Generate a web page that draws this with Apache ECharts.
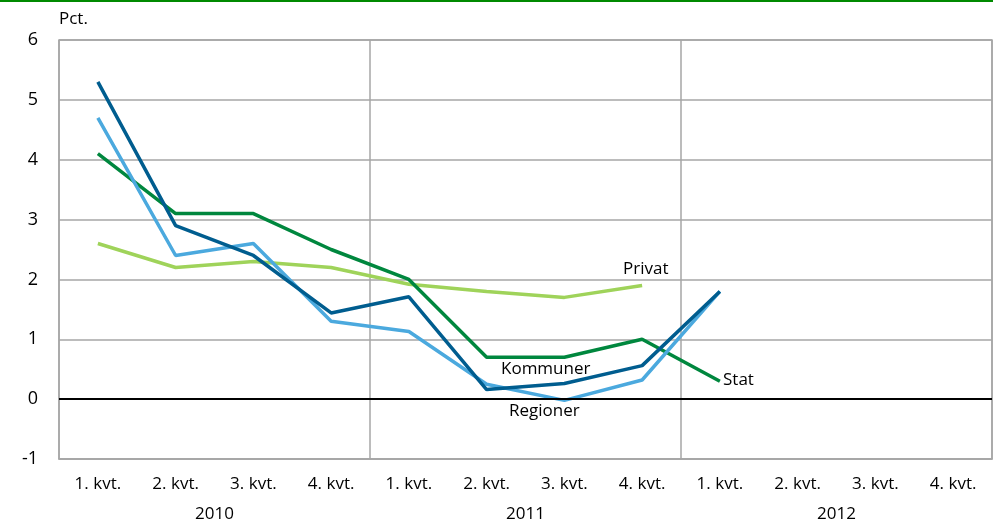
<!DOCTYPE html>
<html>
<head>
<meta charset="utf-8">
<script src="https://cdn.jsdelivr.net/npm/echarts@6/dist/echarts.min.js"></script>
<style>
  html, body { margin: 0; padding: 0; background: #fff; }
  #chart { width: 993px; height: 526px; }
</style>
</head>
<body>
<div id="chart"></div>
<script>
// kvartaler 2010-2012
var quarters = ['1. kvt.', '2. kvt.', '3. kvt.', '4. kvt.',
                '1. kvt.', '2. kvt.', '3. kvt.', '4. kvt.',
                '1. kvt.', '2. kvt.', '3. kvt.', '4. kvt.'];
var years = ['2010', '2011', '2012'];

var stat = [4.1, 3.1, 3.1, 2.5, 2.0, 0.7, 0.7, 1.0, 0.3];
var kommuner = [5.3, 2.9, 2.4, 1.44, 1.71, 0.16, 0.26, 0.56, 1.8];
var regioner = [4.7, 2.4, 2.6, 1.3, 1.13, 0.25, -0.02, 0.32, 1.8];
var privat = [2.6, 2.2, 2.3, 2.2, 1.92, 1.8, 1.7, 1.9];

var font = 'Open Sans';
var chart = echarts.init(document.getElementById('chart'));

var option = {
    animation: false,
    textStyle: { fontFamily: font },
    grid: {
        left: 59, right: 1, top: 40, bottom: 67,
        show: true, borderColor: '#a6a6a6', borderWidth: 1.5
    },
    xAxis: [{
        type: 'category',
        data: quarters,
        boundaryGap: true,
        axisLine: { onZero: false, lineStyle: { color: '#a6a6a6', width: 1.5 } },
        axisTick: { show: false },
        axisLabel: { color: '#000', fontSize: 17, margin: 17, interval: 0, fontFamily: font },
        splitLine: {
            show: true,
            interval: function (i) { return i % 4 === 0; },
            lineStyle: { color: '#a6a6a6', width: 1.5 }
        }
    }, {
        type: 'category',
        data: years,
        position: 'bottom',
        offset: 30,
        axisLine: { show: false },
        axisTick: { show: false },
        axisLabel: { color: '#000', fontSize: 17, margin: 17, fontFamily: font },
        splitLine: { show: false }
    }],
    yAxis: {
        type: 'value',
        min: -1, max: 6, interval: 1,
        axisLine: { show: false },
        axisTick: { show: false },
        axisLabel: { color: '#000', fontSize: 18, margin: 21, fontFamily: font },
        splitLine: { lineStyle: { color: '#a6a6a6', width: 1.5 } }
    },
    graphic: [
        { type: 'rect', shape: { x: 0, y: 0, width: 993, height: 2 }, style: { fill: '#008a00' } },
        { type: 'text', left: 59, top: 11, style: { text: 'Pct.', fontSize: 17, fontFamily: font, fill: '#000' } },
        { type: 'text', left: 623, top: 261, style: { text: 'Privat', fontSize: 17, fontFamily: font, fill: '#000' } },
        { type: 'text', left: 723, top: 372, style: { text: 'Stat', fontSize: 17, fontFamily: font, fill: '#000' } },
        { type: 'text', left: 501, top: 361, style: { text: 'Kommuner', fontSize: 17, fontFamily: font, fill: '#000' } },
        { type: 'text', left: 509, top: 403, style: { text: 'Regioner', fontSize: 17, fontFamily: font, fill: '#000' } }
    ],
    series: [
        {
            name: 'Privat', type: 'line', data: privat, symbol: 'none',
            lineStyle: { color: '#9fd35a', width: 3.5 }
        },
        {
            name: 'Stat', type: 'line', data: stat, symbol: 'none',
            lineStyle: { color: '#00873e', width: 3.5 },
            markLine: {
                silent: true, symbol: 'none', label: { show: false },
                lineStyle: { color: '#000', width: 2, type: 'solid' },
                data: [{ yAxis: 0 }]
            }
        },
        {
            name: 'Regioner', type: 'line', data: regioner, symbol: 'none',
            lineStyle: { color: '#4ba9de', width: 3.5 }
        },
        {
            name: 'Kommuner', type: 'line', data: kommuner, symbol: 'none',
            lineStyle: { color: '#005d8f', width: 3.5 }
        }
    ]
};

chart.setOption(option);
</script>
</body>
</html>
